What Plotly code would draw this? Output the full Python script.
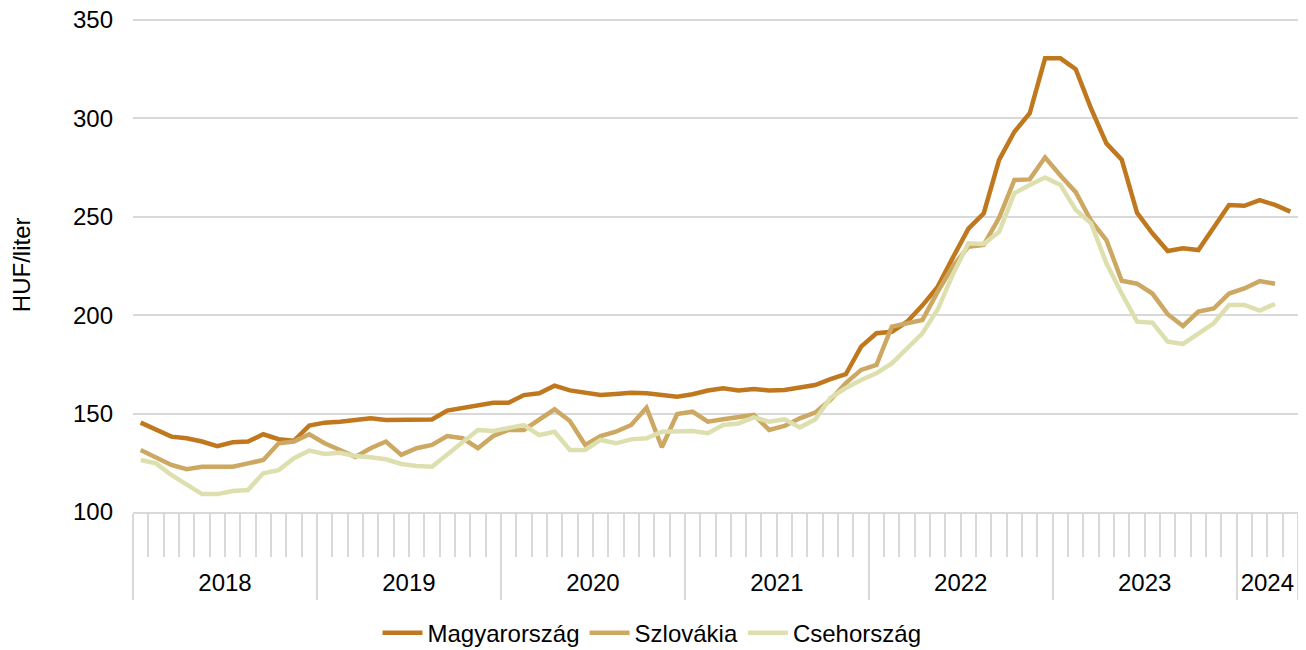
import plotly.graph_objects as go

# ---- data -------------------------------------------------------------
years = ["2018", "2019", "2020", "2021", "2022", "2023", "2024"]
months_per_year = [12, 12, 12, 12, 12, 12, 4]
y_ticks = [100, 150, 200, 250, 300, 350]

magyarorszag = [
    145.4, 141.7, 138.3, 137.5, 135.8, 133.5, 135.4, 135.8, 139.5, 137.0, 136.2, 143.9,
    145.4, 145.9, 146.5, 147.6, 146.7, 146.8, 147.0, 147.0, 151.5, 152.7, 154.2, 155.5,
    155.5, 159.4, 160.3, 164.2, 161.8, 160.5, 159.4, 160.0, 160.6, 160.3, 159.4, 158.6,
    159.8, 161.7, 162.9, 161.7, 162.5, 161.7, 162.0, 163.2, 164.5, 167.5, 170.0, 184.0,
    190.8, 191.6, 196.7, 205.0, 214.5, 229.5, 244.0, 251.8, 278.9, 293.2, 302.6, 330.5,
    330.5, 325.0, 305.0, 287.3, 279.0, 252.0, 241.6, 232.6, 234.0, 233.1, 245.0, 256.0,
    255.6, 258.5, 256.0, 252.6,
]
szlovakia = [
    131.5, 127.8, 123.9, 121.7, 123.0, 123.0, 123.0, 124.7, 126.4, 134.9, 135.8, 139.5,
    134.9, 131.5, 128.0, 132.4, 135.8, 129.0, 132.4, 134.1, 138.6, 137.5, 132.4, 138.6,
    141.7, 141.7, 146.7, 152.2, 146.2, 134.1, 138.6, 140.8, 144.2, 153.0, 132.9, 149.8,
    151.0, 145.9, 147.1, 148.1, 149.3, 141.7, 143.7, 147.6, 150.5, 157.0, 165.5, 172.2,
    174.7, 194.2, 195.9, 197.6, 212.0, 225.0, 234.8, 235.7, 249.5, 268.7, 269.0, 280.2,
    271.0, 262.5, 248.0, 238.2, 217.5, 216.0, 211.0, 200.5, 194.5, 201.8, 203.4, 211.0,
    213.6, 217.3, 216.0,
]
csehorszag = [
    126.4, 124.7, 118.8, 113.7, 109.1, 109.1, 110.7, 111.2, 119.7, 121.3, 127.3, 131.2,
    129.5, 130.1, 128.5, 127.8, 126.8, 124.4, 123.4, 123.0, 129.0, 135.3, 141.7, 141.2,
    142.5, 144.2, 139.1, 140.8, 131.5, 131.5, 136.6, 134.9, 136.9, 137.5, 140.8, 140.8,
    141.2, 140.0, 144.2, 145.0, 148.1, 145.9, 147.1, 143.0, 147.0, 158.0, 163.0, 167.1,
    170.5, 175.5, 183.2, 190.8, 203.0, 221.0, 236.5, 236.2, 242.4, 262.0, 266.2, 270.0,
    266.2, 253.5, 246.7, 226.4, 211.0, 196.7, 196.2, 186.6, 185.4, 190.8, 195.9, 205.2,
    205.2, 202.3, 205.7,
]

series_names = ["Magyarország", "Szlovákia", "Csehország"]
series_colors = ["#C0781E", "#CDA862", "#DDE0AE"]

# ---- derived axis helpers --------------------------------------------
n_months = sum(months_per_year)
year_bounds = [0]
for m in months_per_year:
    year_bounds.append(year_bounds[-1] + m)
year_centers = [(year_bounds[k] + year_bounds[k + 1]) / 2 for k in range(len(years))]
month_bounds = list(range(n_months + 1))

FONT = "Arial, Liberation Sans, sans-serif"
GRID = "#D9D9D9"
FS = 24

fig = go.Figure()
for name, vals, col in zip(series_names, [magyarorszag, szlovakia, csehorszag], series_colors):
    fig.add_trace(go.Scatter(
        x=[i + 0.5 for i in range(len(vals))],
        y=vals,
        name=name,
        mode="lines",
        line=dict(color=col, width=4.5),
        xaxis="x", yaxis="y",
    ))

# invisible trace to activate the year-label axis
fig.add_trace(go.Scatter(x=[year_centers[0]], y=[None], xaxis="x2", yaxis="y",
                         showlegend=False, hoverinfo="skip"))

# page body has an 8px margin, so the figure is 8px smaller than the window
fig.update_layout(
    width=1298, height=642,
    margin=dict(l=125, r=8, t=10, b=138, autoexpand=False),
    paper_bgcolor="white", plot_bgcolor="white",
    font=dict(family=FONT, size=FS, color="#000000"),
    showlegend=True,
    legend=dict(orientation="h", x=0.4455, xanchor="center", y=-0.245, yanchor="middle",
                font=dict(size=FS), itemwidth=40, bgcolor="rgba(0,0,0,0)"),
    xaxis=dict(
        range=[0, n_months], showgrid=False, zeroline=False, automargin=False,
        showline=True, linecolor=GRID, linewidth=1.5,
        tickmode="array", tickvals=year_bounds, ticks="outside",
        ticklen=86, tickcolor=GRID, tickwidth=1.5, showticklabels=False,
        minor=dict(tickvals=month_bounds, ticks="outside", ticklen=43,
                   tickcolor=GRID, tickwidth=1.5, showgrid=False),
    ),
    xaxis2=dict(
        range=[0, n_months], overlaying="x", anchor="y", side="bottom",
        showgrid=False, zeroline=False, showline=False, automargin=False,
        tickmode="array", tickvals=year_centers, ticktext=years,
        ticks="outside", ticklen=49, tickcolor="rgba(0,0,0,0)",
        tickfont=dict(size=FS), ticklabeloverflow="allow",
    ),
    yaxis=dict(
        range=[y_ticks[0], y_ticks[-1] + 1.0], automargin=False,
        tickmode="array", tickvals=y_ticks,
        showgrid=True, gridcolor=GRID, gridwidth=1.5,
        zeroline=False, showline=False, ticks="",
        ticklabelstandoff=19, tickfont=dict(size=FS),
        ticklabeloverflow="allow",
    ),
    annotations=[dict(
        text="HUF/liter", textangle=-90, xref="paper", yref="paper",
        x=-0.096, y=0.5, xanchor="center", yanchor="middle",
        showarrow=False, font=dict(size=FS),
    )],
)

fig.write_html("out.html")
